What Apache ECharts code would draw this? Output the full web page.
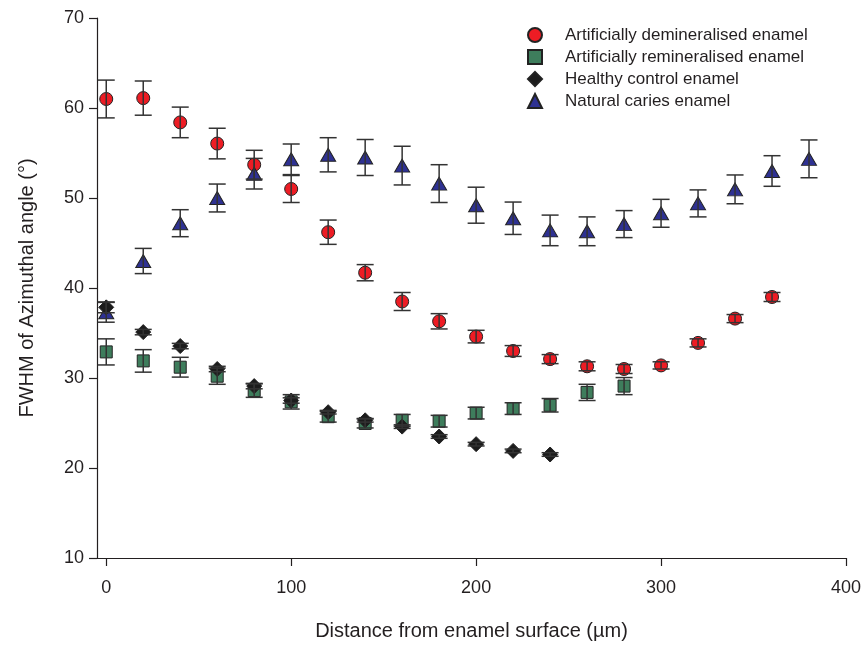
<!DOCTYPE html>
<html>
<head>
<meta charset="utf-8">
<script src="https://cdn.jsdelivr.net/npm/echarts@6/dist/echarts.min.js"></script>
<style>
  html, body { margin: 0; padding: 0; background: #fff; }
  #chart { width: 867px; height: 646px; }
</style>
</head>
<body>
<div id="chart"></div>
<script>
// Distance from enamel surface (µm)
const distance = [0, 20, 40, 60, 80, 100, 120, 140, 160, 180, 200, 220, 240, 260, 280, 300, 320, 340, 360, 380];

// FWHM means and error (±) per group
const demin = [61.0, 61.1, 58.4, 56.05, 53.7, 51.0, 46.2, 41.7, 38.5, 36.3, 34.6, 33.0, 32.1, 31.3, 31.0, 31.4, 33.9, 36.6, 39.0];
const deminErr = [2.1, 1.9, 1.7, 1.7, 1.6, 1.5, 1.35, 0.9, 1.0, 0.85, 0.7, 0.6, 0.5, 0.5, 0.5, 0.4, 0.45, 0.45, 0.5];

const remin = [32.9, 31.9, 31.2, 30.2, 28.6, 27.35, 25.7, 24.95, 25.3, 25.2, 26.1, 26.6, 26.97, 28.4, 29.1];
const reminErr = [1.45, 1.25, 1.1, 0.9, 0.75, 0.8, 0.6, 0.5, 0.65, 0.65, 0.65, 0.65, 0.75, 0.9, 0.95];

const healthy = [37.85, 35.1, 33.55, 31.0, 29.1, 27.5, 26.2, 25.3, 24.6, 23.5, 22.65, 21.9, 21.5];
const healthyErr = [0.6, 0.3, 0.3, 0.3, 0.3, 0.3, 0.2, 0.2, 0.2, 0.2, 0.2, 0.2, 0.2];

const caries = [37.3, 43.0, 47.2, 50.0, 52.7, 54.3, 54.8, 54.5, 53.6, 51.6, 49.2, 47.75, 46.4, 46.3, 47.1, 48.3, 49.4, 50.96, 53.0, 54.35];
const cariesErr = [1.1, 1.4, 1.5, 1.55, 1.7, 1.7, 1.9, 2.0, 2.15, 2.1, 2.0, 1.8, 1.7, 1.6, 1.5, 1.55, 1.5, 1.6, 1.7, 2.1];

const xTicks = [0, 100, 200, 300, 400];

const FONT = '"Liberation Sans", Arial, sans-serif';
const INK = '#231f20';

const chart = echarts.init(document.getElementById('chart'));

function points(vals, errs) {
    return vals.map((v, i) => [distance[i], v, errs[i]]);
}

function errorSeries(vals, errs) {
    return {
        type: 'custom',
        data: points(vals, errs),
        encode: { x: 0, y: 1 },
        z: 3,
        silent: true,
        renderItem: function (params, api) {
            const x = api.value(0), y = api.value(1), e = api.value(2);
            const top = api.coord([x, y + e]);
            const bot = api.coord([x, y - e]);
            const hw = 8.5;
            const style = { stroke: '#333', lineWidth: 1.5 };
            return {
                type: 'group',
                children: [
                    { type: 'line', shape: { x1: top[0], y1: top[1], x2: bot[0], y2: bot[1] }, style },
                    { type: 'line', shape: { x1: top[0] - hw, y1: top[1], x2: top[0] + hw, y2: top[1] }, style },
                    { type: 'line', shape: { x1: bot[0] - hw, y1: bot[1], x2: bot[0] + hw, y2: bot[1] }, style }
                ]
            };
        }
    };
}

function scatterSeries(name, vals, errs, symbol, size, color) {
    return {
        name: name,
        type: 'scatter',
        data: points(vals, errs),
        encode: { x: 0, y: 1 },
        symbol: symbol,
        symbolSize: size,
        z: 2,
        itemStyle: { color: color, borderColor: '#222', borderWidth: 1, opacity: 1 }
    };
}

const option = {
    backgroundColor: '#fff',
    animation: false,
    textStyle: { fontFamily: FONT, color: INK },
    grid: { left: 97, right: 21, top: 18, bottom: 86 },
    legend: {
        orient: 'vertical',
        left: 522,
        top: 19,
        itemWidth: 14,
        itemHeight: 14,
        itemGap: 0,
        data: [
            'Artificially demineralised enamel',
            'Artificially remineralised enamel',
            'Healthy control enamel',
            'Natural caries enamel'
        ],
        textStyle: { fontFamily: FONT, fontSize: 17, lineHeight: 22, color: INK, padding: [0, 0, 0, 18] }
    },
    xAxis: {
        type: 'value',
        min: -5,
        max: 400,
        name: 'Distance from enamel surface (µm)',
        nameLocation: 'middle',
        nameGap: 63,
        nameTextStyle: { fontFamily: FONT, fontSize: 20, color: INK },
        axisLine: { onZero: false, lineStyle: { color: INK, width: 1.2 } },
        axisTick: { show: true, length: 8, customValues: xTicks, lineStyle: { color: INK, width: 1.2 } },
        axisLabel: { customValues: xTicks, fontFamily: FONT, fontSize: 18, color: INK, margin: 21 },
        splitLine: { show: false }
    },
    yAxis: {
        type: 'value',
        min: 10,
        max: 70,
        interval: 10,
        name: 'FWHM of Azimuthal angle (°)',
        nameLocation: 'middle',
        nameGap: 60,
        nameTextStyle: { fontFamily: FONT, fontSize: 20, color: INK },
        axisLine: { show: true, onZero: false, lineStyle: { color: INK, width: 1.2 } },
        axisTick: { show: true, length: 8, lineStyle: { color: INK, width: 1.2 } },
        axisLabel: { fontFamily: FONT, fontSize: 18, color: INK, margin: 13 },
        splitLine: { show: false }
    },
    series: [
        scatterSeries('Artificially demineralised enamel', demin, deminErr, 'circle', 13, '#ed1c24'),
        errorSeries(demin, deminErr),
        scatterSeries('Artificially remineralised enamel', remin, reminErr, 'rect', 12, '#3e7d5c'),
        errorSeries(remin, reminErr),
        scatterSeries('Natural caries enamel', caries, cariesErr, 'triangle', [15, 13], '#2e3192'),
        errorSeries(caries, cariesErr),
        scatterSeries('Healthy control enamel', healthy, healthyErr, 'diamond', 15, '#1c1c1c'),
        errorSeries(healthy, healthyErr)
    ]
};

chart.setOption(option);
</script>
</body>
</html>
